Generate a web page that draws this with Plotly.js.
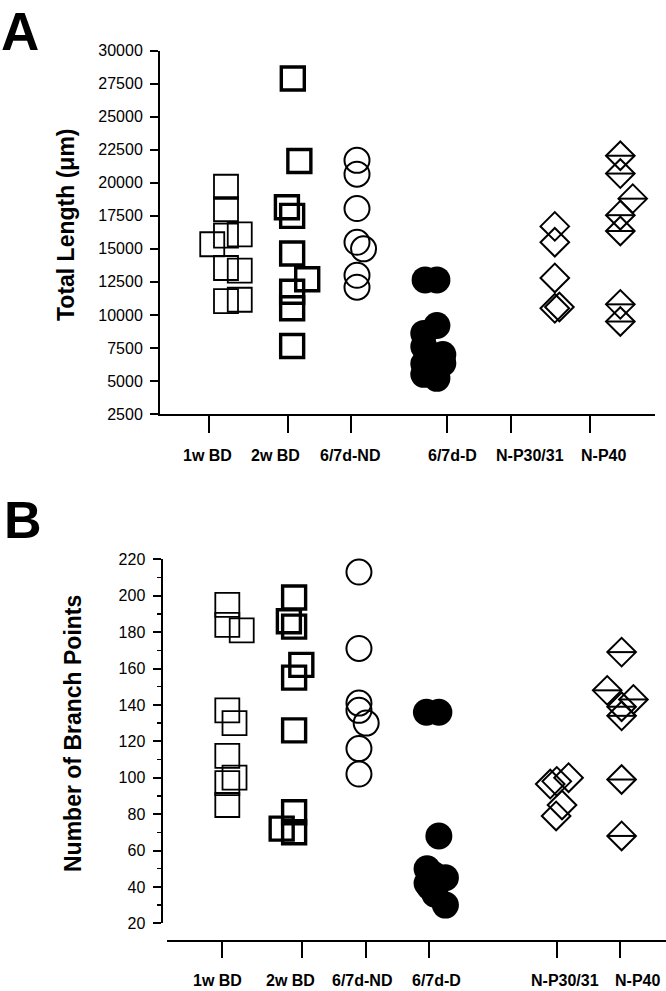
<!DOCTYPE html>
<html><head><meta charset="utf-8">
<script src="https://cdn.plot.ly/plotly-3.0.1.min.js"></script>
<style>html,body{margin:0;padding:0;background:#fff}</style>
</head><body><div id="chart" style="width:666px;height:991px"></div>
<script>
// ---------------- DATA ----------------
const groups = ['1w BD', '2w BD', '6/7d-ND', '6/7d-D', 'N-P30/31', 'N-P40'];
const groupX = [0, 1, 2, 3, 5, 6];

// Panel A: total dendritic length (µm); jitter = horizontal scatter offsets
const len1wBD = [19700, 18000, 16000, 16100, 15350, 13550, 13350, 11050, 11150];
const lenJit1wBD = [0, 0, 0, 0.21, -0.21, 0, 0.21, 0, 0.21];
const len2wBD = [27900, 21650, 18150, 17500, 14650, 12700, 11750, 10500, 7650];
const lenJit2wBD = [0.02, 0.12, -0.07, 0.01, 0.01, 0.24, 0.01, 0.01, 0.01];
const lenND = [21700, 20650, 18050, 15500, 15000, 13000, 12100];
const lenJitND = [0, 0, 0, 0, 0.1, 0, 0];
const lenD = [12650, 12650, 9200, 8600, 7600, 7000, 6350, 6300, 5500, 5200];
const lenJitD = [0.04, 0.22, 0.22, 0.02, 0.02, 0.31, 0.31, 0.02, 0.02, 0.22];
const lenP30 = [16700, 15500, 12800, 10500, 10600];
const lenJitP30 = [0.02, 0.02, 0.02, 0.02, 0.09];
const lenP40 = [22050, 20700, 18800, 17550, 16350, 10800, 9500];
const lenJitP40 = [0.02, 0.02, 0.21, 0.02, 0.02, 0.02, 0.02];

// Panel B: number of branch points
const br1wBD = [195, 184, 181, 137, 130, 112, 100, 97, 85];
const brJit1wBD = [0.02, 0.02, 0.24, 0.02, 0.13, 0.02, 0.13, 0.02, 0.02];
const br2wBD = [199, 186, 183, 162, 155, 126, 81, 72, 70];
const brJit2wBD = [0.04, -0.04, 0.04, 0.15, 0.04, 0.04, 0.04, -0.15, 0.04];
const brND = [213, 171, 141, 137, 130, 116, 102];
const brJitND = [0.03, 0.03, 0.03, 0.03, 0.14, 0.03, 0.03];
const brD = [136, 136, 68, 50, 47, 45, 42, 40, 36, 30];
const brJitD = [0.06, 0.25, 0.25, 0.07, 0.16, 0.35, 0.07, 0.11, 0.19, 0.35];
const brP30 = [96.5, 98, 100, 85, 79];
const brJitP30 = [-0.05, 0.05, 0.23, 0.13, 0.04];
const brP40 = [169, 148, 143, 139, 134, 99, 68];
const brJitP40 = [0.04, -0.18, 0.22, 0.04, 0.04, 0.04, 0.04];

const yTitleA = 'Total Length (μm)';
const yTitleB = 'Number of Branch Points';

// ---------------- LAYOUT / STYLE ----------------
const W = 666, H = 991;
const tickPosA = [-0.26, 0.947, 1.908, 3.374, 4.351, 5.557];
const tickPosB = [-0.066, 1.156, 2.133, 3.099, 5.049, 6.015];
const labelPosA = [-0.29, 0.763, 1.893, 3.458, 4.641, 5.763];
const labelPosB = [-0.13, 0.985, 2.076, 3.221, 5.168, 6.29];

const styles = [
  {symbol: 'square-open', size: 24, width: 1.8},
  {symbol: 'square-open', size: 23, width: 3.4},
  {symbol: 'circle-open', size: 25, width: 2},
  {symbol: 'circle', size: 27, width: 0},
  {symbol: 'diamond-open', size: 22, width: 2},
  {symbol: 'diamond-open', size: 22, width: 2}
];

function trace(vals, jit, gi, xa, ya, st) {
  st = st || styles[gi];
  return {
    type: 'scatter', mode: 'markers', name: groups[gi], xaxis: xa, yaxis: ya,
    x: vals.map((v, i) => groupX[gi] + jit[i]), y: vals, cliponaxis: false,
    hoverinfo: 'name+y',
    marker: {symbol: st.symbol, size: st.size, color: 'black',
             line: {color: 'black', width: st.width}}
  };
}
const barStyle = {symbol: 'line-ew', size: 20.4, width: 2};

const dataA = [[len1wBD, lenJit1wBD], [len2wBD, lenJit2wBD], [lenND, lenJitND],
               [lenD, lenJitD], [lenP30, lenJitP30], [lenP40, lenJitP40]];
const dataB = [[br1wBD, brJit1wBD], [br2wBD, brJit2wBD], [brND, brJitND],
               [brD, brJitD], [brP30, brJitP30], [brP40, brJitP40]];

const traces = [];
dataA.forEach((d, gi) => traces.push(trace(d[0], d[1], gi, 'x', 'y')));
traces.push(trace(lenP40, lenJitP40, 5, 'x', 'y', barStyle));
dataB.forEach((d, gi) => traces.push(trace(d[0], d[1], gi, 'x2', 'y2')));
traces.push(trace(brP40, brJitP40, 5, 'x2', 'y2', barStyle));

const axCommon = {showline: true, linewidth: 2, linecolor: 'black', ticks: 'outside',
  tickwidth: 2, tickcolor: 'black', showgrid: false, zeroline: false, fixedrange: true};

const annotations = [];
groups.forEach((g, i) => {
  annotations.push({text: g, xref: 'x', yref: 'paper', x: labelPosA[i], y: 1 - 455 / H,
    xanchor: 'center', yanchor: 'middle', showarrow: false, font: {size: 16, weight: 'bold'}});
  annotations.push({text: g, xref: 'x2', yref: 'paper', x: labelPosB[i], y: 0.001,
    xanchor: 'center', yanchor: 'bottom', borderpad: 0, showarrow: false,
    font: {size: 16, weight: 'bold'}});
});
annotations.push({text: yTitleA, xref: 'paper', yref: 'paper', x: 66 / W, y: 1 - 225 / H,
  textangle: -90, xanchor: 'center', yanchor: 'middle', showarrow: false, font: {size: 23, weight: 'bold'}});
annotations.push({text: yTitleB, xref: 'paper', yref: 'paper', x: 73 / W, y: 1 - 734 / H,
  textangle: -90, xanchor: 'center', yanchor: 'middle', showarrow: false, font: {size: 23, weight: 'bold'}});
annotations.push({text: 'A', xref: 'paper', yref: 'paper', x: 0, y: 0.999,
  xanchor: 'left', yanchor: 'top', borderpad: 0, showarrow: false, font: {size: 53, weight: 'bold'}});
annotations.push({text: 'B', xref: 'paper', yref: 'paper', x: 2 / W, y: 1 - 520 / H,
  xanchor: 'left', yanchor: 'middle', showarrow: false, font: {size: 52, weight: 'bold'}});

const layout = {
  width: W, height: H, margin: {l: 0, r: 0, t: 0, b: 0, pad: 0},
  paper_bgcolor: 'white', plot_bgcolor: 'rgba(0,0,0,0)', showlegend: false,
  font: {family: 'Liberation Sans, Arial, Helvetica, sans-serif', color: 'black'},
  xaxis: Object.assign({}, axCommon, {domain: [160 / W, 655 / W], range: [-1.00763, 6.54962],
    anchor: 'y', ticklen: 17, tickvals: tickPosA, showticklabels: false}),
  yaxis: Object.assign({}, axCommon, {domain: [1 - 414 / H, 1 - 50.7 / H], range: [2500, 30000],
    anchor: 'x', ticklen: 8, tick0: 2500, dtick: 2500, tickformat: 'd',
    tickfont: {size: 16}, ticklabelstandoff: 4}),
  xaxis2: Object.assign({}, axCommon, {domain: [167 / W, 1], range: [-0.90076, 6.71756],
    anchor: 'free', position: 1 - 941 / H, ticklen: 16, tickvals: tickPosB, showticklabels: false}),
  yaxis2: Object.assign({}, axCommon, {domain: [1 - 923.3 / H, 1 - 559.3 / H], range: [20, 220],
    anchor: 'free', position: 161.5 / W, ticklen: 8, tick0: 20, dtick: 20,
    tickfont: {size: 16}, ticklabelstandoff: 4,
    minor: {dtick: 10, ticks: 'outside', ticklen: 4, tickwidth: 1.5, tickcolor: 'black', showgrid: false}}),
  annotations: annotations
};

Plotly.newPlot('chart', traces, layout, {displayModeBar: false, staticPlot: true});
</script>
</body></html>
